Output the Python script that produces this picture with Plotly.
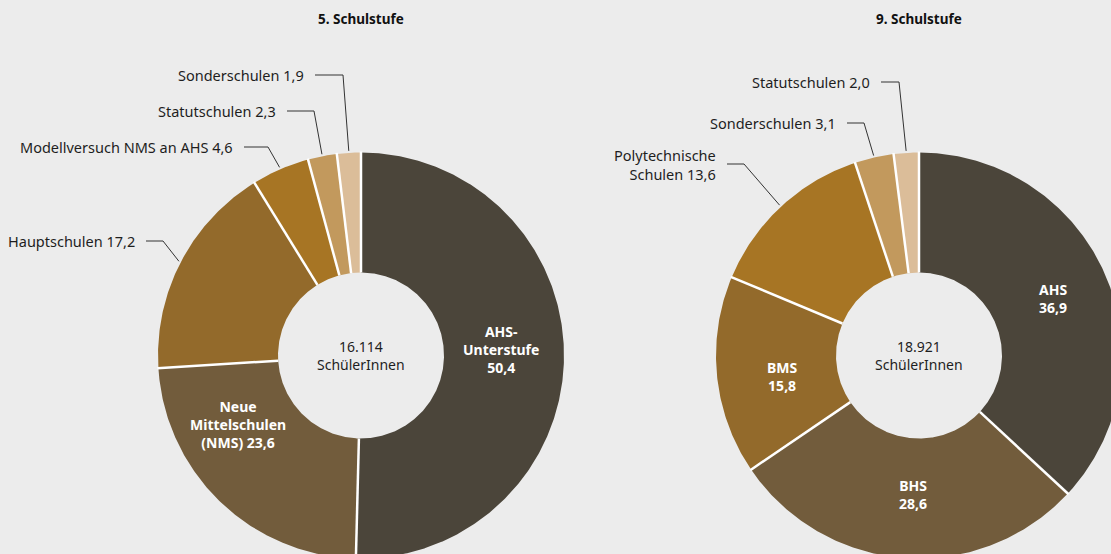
import numpy as np
import plotly.graph_objects as go

# Anteile der SchülerInnen nach Schulform (in %)
schulen_5 = ["AHS-Unterstufe", "Neue Mittelschulen (NMS)", "Hauptschulen",
             "Modellversuch NMS an AHS", "Statutschulen", "Sonderschulen"]
anteil_5 = [50.4, 23.6, 17.2, 4.6, 2.3, 1.9]
gesamt_5 = "16.114"

schulen_9 = ["AHS", "BHS", "BMS", "Polytechnische Schulen",
             "Sonderschulen", "Statutschulen"]
anteil_9 = [36.9, 28.6, 15.8, 13.6, 3.1, 2.0]
gesamt_9 = "18.921"

titel = ["5. Schulstufe", "9. Schulstufe"]

# Layout / Stil
W, H = 1111, 554
BG = "#ececec"
FONT = "Noto Sans"
R_OUT, R_IN = 203, 83
farben_5 = ["#4b453a", "#725c3c", "#936a2b", "#a77524", "#c2995d", "#dbbd99"]
farben_9 = ["#4b453a", "#725c3c", "#936a2b", "#a77524", "#c2995d", "#dbbd99"]

# Beschriftung innen: Vorlage (mit Umbruch), Position
innen_5 = {"AHS-Unterstufe": ("AHS-<br>Unterstufe<br>{v}", 501, 349),
           "Neue Mittelschulen (NMS)": ("Neue<br>Mittelschulen<br>(NMS) {v}", 238, 424)}
innen_9 = {"AHS": ("AHS<br>{v}", 1053, 298), "BMS": ("BMS<br>{v}", 782, 376),
           "BHS": ("BHS<br>{v}", 913, 494)}
# Beschriftung außen: Vorlage, Textende x, y, Knick x
aussen_5 = {"Hauptschulen": ("Hauptschulen {v}", 137, 241, 163),
            "Modellversuch NMS an AHS": ("Modellversuch NMS an AHS {v}", 235, 147, 268),
            "Statutschulen": ("Statutschulen {v}", 278, 111, 314),
            "Sonderschulen": ("Sonderschulen {v}", 306, 75, 343)}
aussen_9 = {"Polytechnische Schulen": ("Polytechnische<br>Schulen {v}", 718, 164, 744),
            "Sonderschulen": ("Sonderschulen {v}", 838, 123, 864),
            "Statutschulen": ("Statutschulen {v}", 872, 82, 899)}


def fmt(v):
    return f"{v:.1f}".replace(".", ",")


def donut(fig, namen, werte, farben, cx, cy, innen, aussen, titel_text, gesamt):
    total = sum(werte)
    grenzen = np.concatenate([[0], np.cumsum(werte)]) / total * 2 * np.pi
    for i, (name, wert) in enumerate(zip(namen, werte)):
        a0, a1 = grenzen[i], grenzen[i + 1]
        t = np.linspace(a0, a1, max(int(np.degrees(a1 - a0) * 2), 4))
        xs = np.concatenate([cx + R_OUT * np.sin(t), cx + R_IN * np.sin(t[::-1])])
        ys = np.concatenate([cy - R_OUT * np.cos(t), cy - R_IN * np.cos(t[::-1])])
        fig.add_trace(go.Scatter(
            x=np.append(xs, xs[0]), y=np.append(ys, ys[0]), mode="lines",
            fill="toself", fillcolor=farben[i], line=dict(width=0),
            hoveron="fills", name=f"{name} {fmt(wert)}", hoverinfo="name",
            showlegend=False))
    # weiße Trennlinien
    for a in grenzen[:-1]:
        fig.add_trace(go.Scatter(
            x=[cx + R_IN * np.sin(a), cx + (R_OUT + 1) * np.sin(a)],
            y=[cy - R_IN * np.cos(a), cy - (R_OUT + 1) * np.cos(a)],
            mode="lines", line=dict(color="white", width=2.5),
            hoverinfo="skip", showlegend=False))

    for i, (name, wert) in enumerate(zip(namen, werte)):
        mitte = (grenzen[i] + grenzen[i + 1]) / 2
        if name in innen:
            txt, x, y = innen[name]
            fig.add_annotation(x=x, y=y, text="<b>" + txt.format(v=fmt(wert)) + "</b>",
                               showarrow=False, align="center",
                               font=dict(family=FONT, size=14, color="white"))
        elif name in aussen:
            txt, x, y, knick = aussen[name]
            fig.add_annotation(x=x, y=y, text=txt.format(v=fmt(wert)),
                               xanchor="right", yanchor="middle", align="right",
                               showarrow=False,
                               font=dict(family=FONT, size=14.5, color="#1e1e1e"))
            px_ = cx + (R_OUT + 2) * np.sin(mitte)
            py_ = cy - (R_OUT + 2) * np.cos(mitte)
            fig.add_trace(go.Scatter(
                x=[x + 9, knick, px_], y=[y, y, py_], mode="lines",
                line=dict(color="#333333", width=1),
                hoverinfo="skip", showlegend=False))

    fig.add_annotation(x=cx, y=cy, text=f"{gesamt}<br>SchülerInnen",
                       showarrow=False, align="center",
                       font=dict(family=FONT, size=14, color="#1e1e1e"))
    fig.add_annotation(x=cx, y=19, text=f"<b>{titel_text}</b>", showarrow=False,
                       font=dict(family=FONT, size=13.5, color="#111111"))


fig = go.Figure()
donut(fig, schulen_5, anteil_5, farben_5, 361, 355.5, innen_5, aussen_5, titel[0], gesamt_5)
donut(fig, schulen_9, anteil_9, farben_9, 919, 355.5, innen_9, aussen_9, titel[1], gesamt_9)

fig.update_layout(
    width=W, height=H,
    margin=dict(l=0, r=0, t=0, b=0),
    paper_bgcolor=BG, plot_bgcolor=BG,
    xaxis=dict(range=[0, W], visible=False, fixedrange=True),
    yaxis=dict(range=[H, 0], visible=False, fixedrange=True),
    showlegend=False,
)

fig.write_html("out.html", config={"displayModeBar": False},
               post_script="document.body.style.margin='0';document.body.style.overflow='hidden';")
